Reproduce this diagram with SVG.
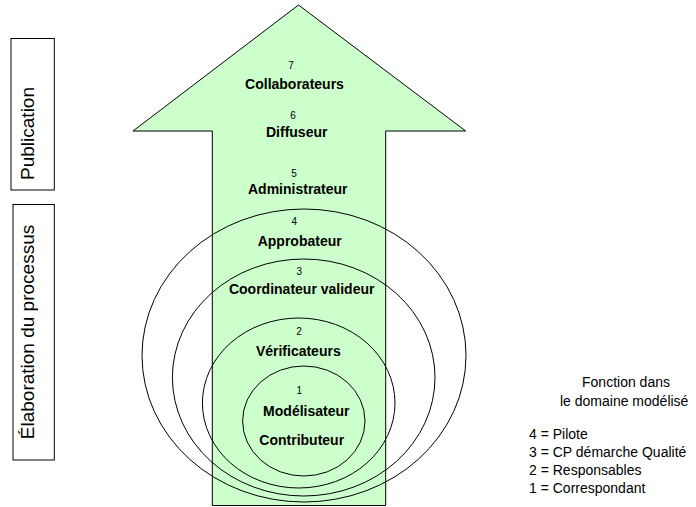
<svg xmlns="http://www.w3.org/2000/svg" width="696" height="507" viewBox="0 0 696 507">
<style>
.ln{fill:none;stroke:#000;stroke-width:1}
.num{font-family:"Liberation Sans",Arial,sans-serif;font-size:10px;fill:#000;text-anchor:middle}
.lbl{font-family:"Liberation Sans",Arial,sans-serif;font-size:14px;font-weight:bold;fill:#000;text-anchor:middle}
.side{font-family:"Liberation Sans",Arial,sans-serif;font-size:19px;fill:#000;text-anchor:middle}
.leg{font-family:"Liberation Sans",Arial,sans-serif;font-size:14px;fill:#000}
</style>
<rect width="696" height="507" fill="#fff"/>
<g id="phase-publication">
<rect class="ln" x="11" y="38.5" width="43.3" height="151.5"/>
<text class="side" transform="translate(34.3,133.5) rotate(-90)">Publication</text>
</g>
<g id="phase-elaboration">
<rect class="ln" x="13" y="204.5" width="41.3" height="255.5"/>
<text class="side" transform="translate(34.3,332) rotate(-90)">Élaboration du processus</text>
</g>
<g id="arrow">
<polygon points="298.5,5 465.7,131 385.7,131 385.7,505.5 212.3,505.5 212.3,131 133,131" fill="#ccffcc" stroke="#000" stroke-width="1"/>
</g>
<g id="circles">
<ellipse id="c4" class="ln" cx="304" cy="355.5" rx="162" ry="146.5"/>
<ellipse id="c3" class="ln" cx="303.7" cy="377.5" rx="131.3" ry="118.5"/>
<ellipse id="c2" class="ln" cx="298.7" cy="403" rx="96.3" ry="85"/>
<ellipse id="c1" class="ln" cx="303.8" cy="421" rx="61.2" ry="55"/>
</g>
<g id="level-7">
<text class="num" x="291" y="69">7</text>
<text class="lbl" x="294.5" y="88.5">Collaborateurs</text>
</g>
<g id="level-6">
<text class="num" x="293" y="119">6</text>
<text class="lbl" x="296.7" y="136.5">Diffuseur</text>
</g>
<g id="level-5">
<text class="num" x="294" y="177">5</text>
<text class="lbl" x="297.8" y="194">Administrateur</text>
</g>
<g id="level-4">
<text class="num" x="294.3" y="225">4</text>
<text class="lbl" x="299.7" y="245.5">Approbateur</text>
</g>
<g id="level-3">
<text class="num" x="299.3" y="275">3</text>
<text class="lbl" x="301.7" y="294">Coordinateur valideur</text>
</g>
<g id="level-2">
<text class="num" x="299" y="334.5">2</text>
<text class="lbl" x="298.3" y="356">Vérificateurs</text>
</g>
<g id="level-1">
<text class="num" x="299.3" y="394">1</text>
<text class="lbl" x="306.3" y="416">Modélisateur</text>
<text class="lbl" x="301.7" y="445">Contributeur</text>
</g>
<g id="legend">
<text class="leg" x="626" y="386.7" text-anchor="middle">Fonction dans</text>
<text class="leg" x="624.2" y="405.5" text-anchor="middle">le domaine modélisé</text>
<text class="leg" x="529" y="438.5">4 = Pilote</text>
<text class="leg" x="529" y="456.5">3 = CP démarche Qualité</text>
<text class="leg" x="529" y="474.5">2 = Responsables</text>
<text class="leg" x="529" y="492.5">1 = Correspondant</text>
</g>
</svg>
